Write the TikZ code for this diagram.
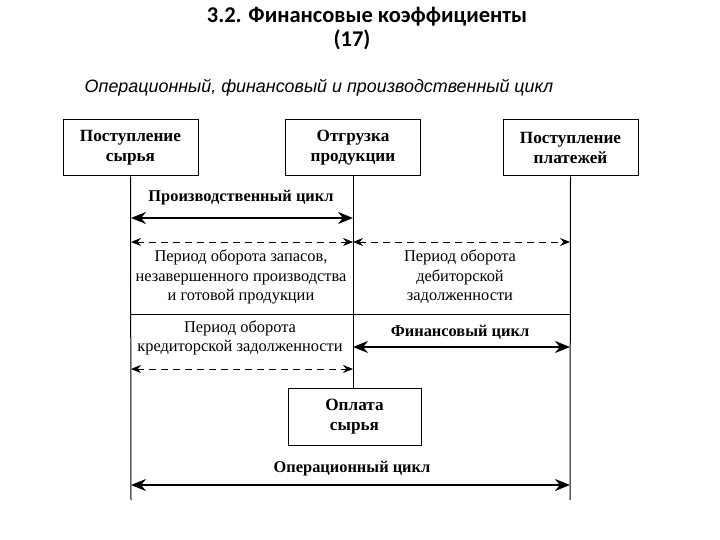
\documentclass[tikz,border=0pt]{standalone}
\usepackage{fontspec}
\setmainfont{Liberation Serif}
\newfontfamily\titlefont{Carlito}
\newfontfamily\subfont{Liberation Sans}
\usetikzlibrary{arrows.meta}
\begin{document}
\begin{tikzpicture}[x=1pt,y=-1pt,
  box/.style={draw,line width=1pt,minimum width=135pt,minimum height=56pt,align=center,inner sep=0pt,font=\fontsize{17.2}{20}\selectfont\bfseries},
  vline/.style={line width=1pt},
  bigarr/.style={line width=2pt,{Stealth[length=15pt,width=12pt]}-{Stealth[length=15pt,width=12pt]}},
  dasharr/.style={line width=1pt,dash pattern=on 7pt off 5pt,{Stealth[length=10pt,width=8pt]}-{Stealth[length=10pt,width=8pt]}},
  lbl/.style={align=center,inner sep=0pt,font=\fontsize{16.4}{19.5}\selectfont},
  blbl/.style={align=center,inner sep=0pt,font=\fontsize{16.4}{19}\selectfont\bfseries}]
\useasboundingbox (0,0) rectangle (720,540);
% titles
\node[font=\titlefont\fontsize{22.5}{26}\selectfont\bfseries] (t1) at (367,17) {3.2. Финансовые коэффициенты};
\node[font=\titlefont\fontsize{22.5}{26}\selectfont\bfseries] (t2) at (352,40) {(17)};
\node[font=\subfont\fontsize{17.9}{21}\selectfont\itshape] (t3) at (319,88) {Операционный, финансовый и производственный цикл};
% boxes
\node[box] (b1) at (130.5,148) {Поступление\\сырья};
\node[box] (b2) at (353,148) {Отгрузка\\продукции};
\node[box] (b3) at (570.5,148) {Поступление\\платежей};
\node[box,minimum width=133pt,minimum height=57pt] (b4) at (354.5,416.5) {Оплата\\сырья};
% line ends
\coordinate (e1) at (131,500);
\coordinate (e3) at (570,500);
\coordinate (h1) at (131,314);
\coordinate (h3) at (570,314);
\draw[vline] (b1.south) -- (e1);
\draw[vline] (b2.south) -- (353,388);
\draw[vline] (b3.south) -- (e3);
\draw[vline] (h1) -- (h3);
% arrows
\coordinate (a1l) at (131,218); \coordinate (a1r) at (353,218);
\coordinate (d1l) at (131,242); \coordinate (d1r) at (353,242);
\coordinate (d2l) at (353,242); \coordinate (d2r) at (570,242);
\coordinate (a2l) at (353,347); \coordinate (a2r) at (570,347);
\coordinate (d3l) at (131,369); \coordinate (d3r) at (353,369);
\coordinate (a3l) at (131,485); \coordinate (a3r) at (570,485);
\draw[bigarr] (a1l) -- (a1r);
\draw[dasharr] (d1l) -- (d1r);
\draw[dasharr] (d2l) -- (d2r);
\draw[bigarr] (a2l) -- (a2r);
\draw[dasharr] (d3l) -- (d3r);
\draw[bigarr] (a3l) -- (a3r);
% labels
\node[blbl] (l1) at (241,198) {Производственный цикл};
\node[lbl] (l2) at (241,277) {Период оборота запасов,\\незавершенного производства\\и готовой продукции};
\node[lbl] (l3) at (460,277) {Период оборота\\дебиторской\\задолженности};
\node[lbl] (l4) at (240,338) {Период оборота\\кредиторской задолженности};
\node[blbl] (l5) at (460,332) {Финансовый цикл};
\node[blbl] (l6) at (352,469) {Операционный цикл};
\end{tikzpicture}
\end{document}
